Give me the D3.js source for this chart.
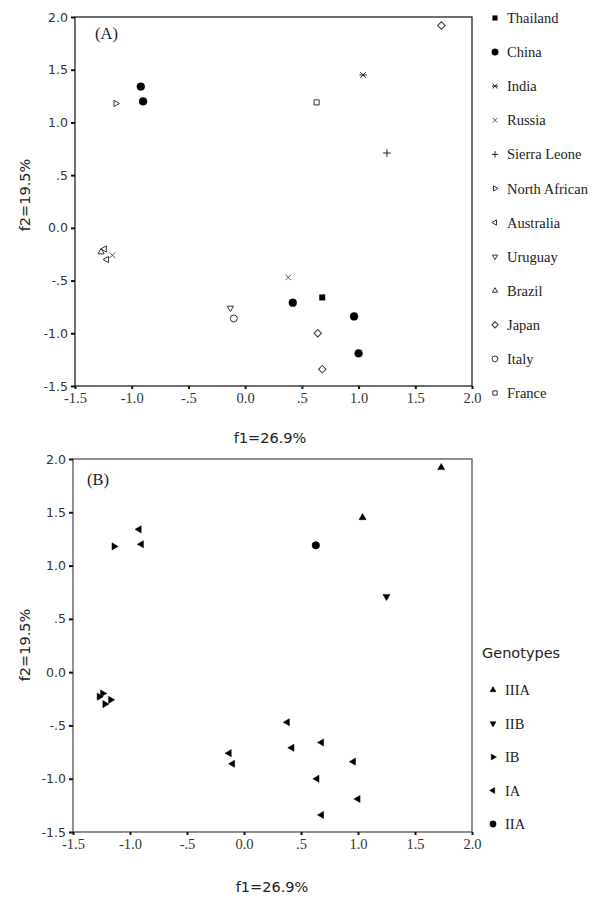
<!DOCTYPE html>
<html>
<head>
<meta charset="utf-8">
<script src="https://cdn.jsdelivr.net/npm/d3@7"></script>
<style>
  body { margin: 0; background: #fff; }
</style>
</head>
<body>
<script>
// Point data (one entry per sample)
var country = ["Thailand", "China", "China", "China", "China", "China", "India", "Russia", "Russia",
  "Sierra Leone", "North African", "Australia", "Australia", "Uruguay", "Brazil",
  "Japan", "Japan", "Japan", "Italy", "France"];
var genotype = ["IA", "IA", "IA", "IA", "IA", "IA", "IIIA", "IA", "IB",
  "IIB", "IB", "IB", "IB", "IA", "IB",
  "IIIA", "IA", "IA", "IA", "IIA"];
var f1 = [0.68, -0.92, -0.90, 0.42, 0.96, 1.00, 1.04, 0.38, -1.17,
  1.25, -1.14, -1.24, -1.22, -0.13, -1.27,
  1.73, 0.64, 0.68, -0.10, 0.63];
var f2 = [-0.66, 1.34, 1.20, -0.71, -0.84, -1.19, 1.45, -0.47, -0.26,
  0.71, 1.18, -0.20, -0.30, -0.76, -0.23,
  1.92, -1.00, -1.34, -0.86, 1.19];

var countries = ["Thailand", "China", "India", "Russia", "Sierra Leone", "North African",
  "Australia", "Uruguay", "Brazil", "Japan", "Italy", "France"];
var genotypes = ["IIIA", "IIB", "IB", "IA", "IIA"];
var ticks = [-1.5, -1.0, -0.5, 0.0, 0.5, 1.0, 1.5, 2.0];

var xTitle = "f1=26.9%", yTitle = "f2=19.5%";

// marker look for each group
var countryStyle = {
  "Thailand":      { type: "square",   filled: true,  size: 30 },
  "China":         { type: "circle",   filled: true,  size: 48 },
  "India":         { type: "star",     filled: false, size: 3.6 },
  "Russia":        { type: "cross",    filled: false, size: 2.8 },
  "Sierra Leone":  { type: "plus",     filled: false, size: 3.8 },
  "North African": { type: "triRight", filled: false, size: 17 },
  "Australia":     { type: "triLeft",  filled: false, size: 17 },
  "Uruguay":       { type: "triDown",  filled: false, size: 17 },
  "Brazil":        { type: "triUp",    filled: false, size: 17 },
  "Japan":         { type: "diamond",  filled: false, size: 28 },
  "Italy":         { type: "circle",   filled: false, size: 38 },
  "France":        { type: "square",   filled: false, size: 26 }
};
var genoStyle = {
  "IIIA": { type: "triUp",    filled: true, size: 22 },
  "IIB":  { type: "triDown",  filled: true, size: 22 },
  "IB":   { type: "triRight", filled: true, size: 22 },
  "IA":   { type: "triLeft",  filled: true, size: 22 },
  "IIA":  { type: "circle",   filled: true, size: 44 }
};

var W = 600, H = 902;
var svg = d3.select("body").append("svg")
  .attr("width", W).attr("height", H);

var serif = "'Liberation Serif', 'Times New Roman', serif",
    sans = "'DejaVu Sans', Verdana, sans-serif";

// SPSS style labels: 0.0, .5, -.5, 1.0
function fmt(d) {
  var s = Math.abs(d).toFixed(1);
  if (d === 0) return "0.0";
  if (s.indexOf("0.") === 0) s = s.slice(1);
  return (d < 0 ? "-" : "") + s;
}

// draws one marker at (cx, cy)
function marker(g, st, cx, cy, scale) {
  scale = scale || 1;
  var col = st.filled ? "#000" : "#333";
  var rot = 0;
  if (st.type === "plus" || st.type === "cross" || st.type === "star") {
    var r = st.size * Math.sqrt(scale);
    var path = d3.path();
    if (st.type !== "cross") { path.moveTo(-r, 0); path.lineTo(r, 0); }
    if (st.type === "plus") { path.moveTo(0, -r); path.lineTo(0, r); }
    if (st.type !== "plus") {
      var k = st.type === "star" ? r * 0.8 : r;
      path.moveTo(-k, -k); path.lineTo(k, k);
      path.moveTo(-k, k); path.lineTo(k, -k);
    }
    g.append("path")
      .attr("d", path.toString())
      .attr("transform", "translate(" + cx + "," + cy + ")")
      .attr("fill", "none")
      .attr("stroke", st.type === "cross" ? "#555" : "#222")
      .attr("stroke-width", 1);
    return;
  }
  var sym = d3.symbolCircle;
  if (st.type === "square" || st.type === "diamond") sym = d3.symbolSquare;
  if (st.type.indexOf("tri") === 0) sym = d3.symbolTriangle;
  if (st.type === "diamond") rot = 45;
  if (st.type === "triDown") rot = 180;
  if (st.type === "triRight") rot = 90;
  if (st.type === "triLeft") rot = -90;
  g.append("path")
    .attr("d", d3.symbol(sym, st.size * scale)())
    .attr("transform", "translate(" + cx + "," + cy + ") rotate(" + rot + ")")
    .attr("fill", st.filled ? "#000" : "#fff")
    .attr("stroke", col)
    .attr("stroke-width", st.filled ? 0.5 : 1);
}

function panel(cfg) {
  var x = d3.scaleLinear().domain([-1.5, 2.0]).range([cfg.left, cfg.right]);
  var y = d3.scaleLinear().domain([-1.5, 2.0]).range([cfg.bottom, cfg.top]);
  var g = svg.append("g");

  // frame
  g.append("rect")
    .attr("x", cfg.left).attr("y", cfg.top)
    .attr("width", cfg.right - cfg.left).attr("height", cfg.bottom - cfg.top)
    .attr("fill", "none").attr("stroke", cfg.frame).attr("stroke-width", 1.3);

  var xa = g.append("g")
    .attr("transform", "translate(0," + cfg.bottom + ")")
    .call(d3.axisBottom(x).tickValues(ticks).tickSize(3).tickPadding(4).tickFormat(fmt));
  xa.select(".domain").remove();
  xa.selectAll("line").attr("stroke", "#111").attr("stroke-width", 2);
  xa.selectAll("text").attr("font-family", serif).attr("font-size", "14.5px").attr("fill", "#333");

  var ya = g.append("g")
    .attr("transform", "translate(" + cfg.left + ",0)")
    .call(d3.axisLeft(y).tickValues(ticks).tickSize(4).tickPadding(3).tickFormat(fmt));
  ya.select(".domain").remove();
  ya.selectAll("line").attr("stroke", "#111").attr("stroke-width", 2);
  ya.selectAll("text").attr("font-family", sans).attr("font-size", "12.5px").attr("fill", "#333");

  // titles
  g.append("text")
    .attr("x", cfg.xTitleX).attr("y", cfg.xTitleY)
    .attr("text-anchor", "middle")
    .attr("font-family", sans).attr("font-size", "14.5px").attr("fill", "#222")
    .text(xTitle);
  g.append("text")
    .attr("transform", "translate(" + cfg.yTitleX + "," + cfg.yTitleY + ") rotate(-90)")
    .attr("text-anchor", "middle")
    .attr("dy", "0.35em")
    .attr("font-family", sans).attr("font-size", "14.5px").attr("fill", "#222")
    .text(yTitle);
  g.append("text")
    .attr("x", cfg.labelX).attr("y", cfg.labelY)
    .attr("font-family", serif).attr("font-size", "16.5px").attr("fill", "#223")
    .text(cfg.label);

  // points
  var pts = g.append("g");
  for (var i = 0; i < f1.length; i++) {
    marker(pts, cfg.style(i), x(f1[i]), y(f2[i]));
  }
  return g;
}

// Panel A: by country
panel({
  left: 75, right: 472, top: 17, bottom: 386, frame: "#222",
  xTitleX: 270, xTitleY: 443, yTitleX: 25, yTitleY: 195,
  label: "(A)", labelX: 95, labelY: 39,
  style: function(i) { return countryStyle[country[i]]; }
});

// Panel B: by genotype
panel({
  left: 73, right: 472, top: 459, bottom: 832, frame: "#555",
  xTitleX: 272, xTitleY: 892, yTitleX: 25, yTitleY: 645,
  label: "(B)", labelX: 87, labelY: 485,
  style: function(i) { return genoStyle[genotype[i]]; }
});

// Legend A
var legA = svg.append("g");
var ly = d3.scalePoint().domain(countries).range([18, 393]);
countries.forEach(function(c) {
  marker(legA, countryStyle[c], 495, ly(c), 0.7);
  legA.append("text")
    .attr("x", 507).attr("y", ly(c)).attr("dy", "0.35em")
    .attr("font-family", serif).attr("font-size", "14.5px").attr("fill", "#222")
    .text(c);
});

// Legend B
var legB = svg.append("g");
legB.append("text")
  .attr("x", 482).attr("y", 653).attr("dy", "0.35em")
  .attr("font-family", sans).attr("font-size", "14.5px").attr("fill", "#222")
  .text("Genotypes");
var gy = d3.scalePoint().domain(genotypes).range([690, 824]);
genotypes.forEach(function(c) {
  marker(legB, genoStyle[c], 493, gy(c), 0.7);
  legB.append("text")
    .attr("x", 505).attr("y", gy(c)).attr("dy", "0.35em")
    .attr("font-family", serif).attr("font-size", "14.5px").attr("fill", "#222")
    .text(c);
});
</script>
</body>
</html>
